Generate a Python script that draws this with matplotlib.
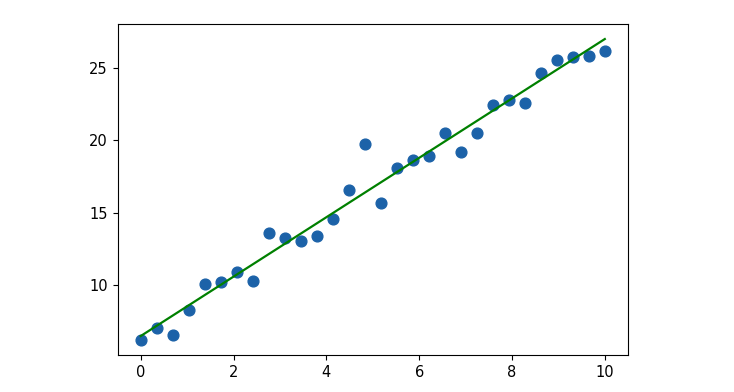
import numpy as np
import matplotlib
matplotlib.use("Agg")
import matplotlib.pyplot as plt

x_points = [0.0, 0.345, 0.690, 1.034, 1.379, 1.724, 2.069, 2.414, 2.759, 3.103,
            3.448, 3.793, 4.138, 4.483, 4.828, 5.172, 5.517, 5.862, 6.207, 6.552,
            6.897, 7.241, 7.586, 7.931, 8.276, 8.621, 8.966, 9.310, 9.655, 10.0]
y_points = [6.22, 7.04, 6.54, 8.26, 10.05, 10.25, 10.94, 10.30, 13.63, 13.23,
            13.03, 13.42, 14.57, 16.54, 19.75, 15.69, 18.10, 18.63, 18.93, 20.51,
            19.18, 20.53, 22.44, 22.76, 22.55, 24.66, 25.55, 25.74, 25.81, 26.17]
fit_x = [0.0, 10.0]
fit_y = [6.49, 26.98]

fig = plt.figure(figsize=(7.34, 3.92), dpi=100)
ax = fig.add_axes([117.5 / 734, 37 / 392, 510.5 / 734, 331 / 392])
ax.scatter(x_points, y_points, s=60, color="#1c62a8", zorder=2)
ax.plot(fit_x, fit_y, color="green", linewidth=1.6, zorder=3)
ax.set_xticks([0, 2, 4, 6, 8, 10])
ax.set_yticks([10, 15, 20, 25])
ax.tick_params(labelsize=10.5)
fig.savefig("out.png", dpi=100)
